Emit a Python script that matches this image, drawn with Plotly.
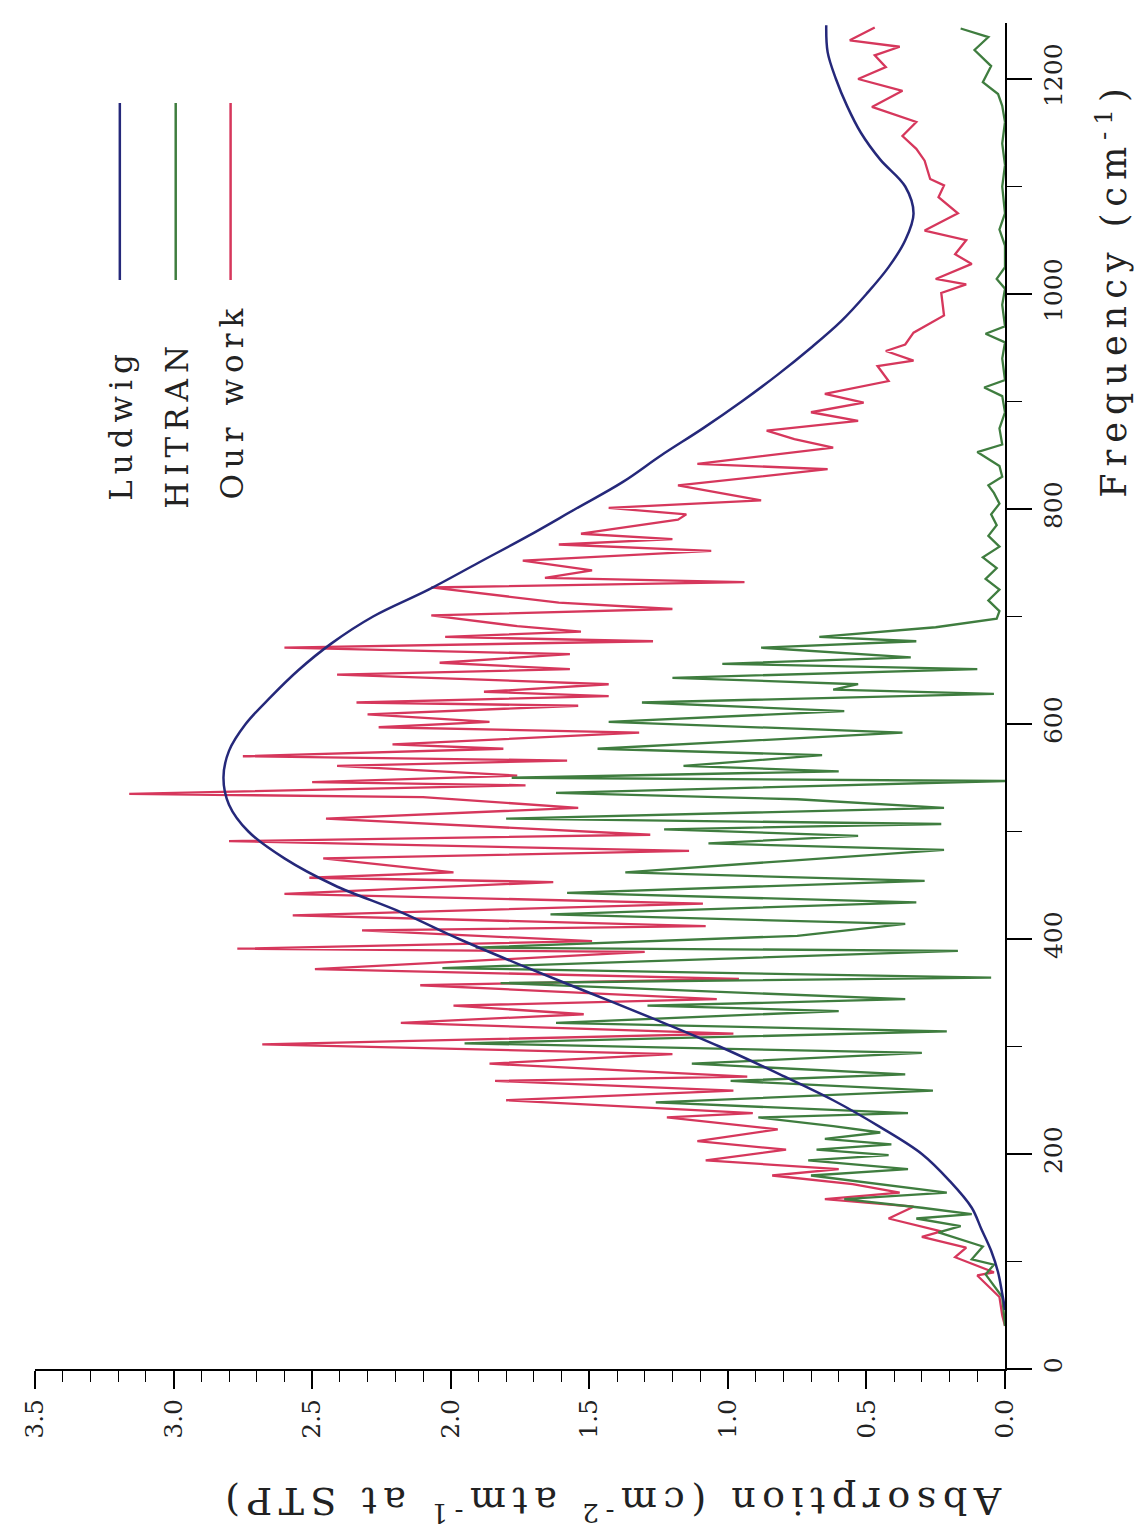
import plotly.graph_objects as go

# ---------------- data ----------------
ludwig_freq = [55, 60, 70, 90, 110, 130, 150, 175, 200, 225, 250, 275, 300, 325, 350, 375, 400, 425, 450,
               475, 500, 525, 550, 575, 600, 625, 650, 675, 700, 725, 750, 775, 800, 825, 850, 875, 900,
               925, 950, 975, 1000, 1025, 1050, 1075, 1100, 1125, 1150, 1175, 1200, 1225, 1250]
ludwig_abs = [0.0, 0.003, 0.01, 0.025, 0.05, 0.085, 0.12, 0.2, 0.3, 0.45, 0.62, 0.82, 1.03, 1.26, 1.5, 1.74,
              1.97, 2.18, 2.42, 2.6, 2.73, 2.8, 2.82, 2.8, 2.74, 2.65, 2.55, 2.43, 2.28, 2.08, 1.9, 1.72,
              1.55, 1.38, 1.24, 1.09, 0.95, 0.82, 0.7, 0.59, 0.5, 0.42, 0.36, 0.33, 0.36, 0.45, 0.52, 0.57,
              0.61, 0.64, 0.645]

hitran_freq = [40, 67, 88, 97, 102, 114, 127, 133, 140, 144, 150, 158, 164, 180, 186, 194, 199, 204, 209, 214,
               220, 226, 234, 238, 248, 259, 268, 274, 284, 294, 303, 314, 322, 333, 338, 344, 359, 364, 373,
               389, 392, 403, 414, 423, 434, 443, 454, 462, 473, 483, 489, 496, 502, 507, 512, 522, 530, 536,
               547, 550, 556, 561, 571, 577, 592, 602, 612, 620, 628, 632, 637, 643, 651, 656, 662, 671, 677,
               681, 690, 698, 705, 715, 725, 735, 745, 755, 765, 775, 785, 795, 805, 815, 822, 830, 840, 853,
               860, 875, 890, 905, 913, 920, 940, 955, 963, 970, 990, 1005, 1014, 1025, 1045, 1060, 1075,
               1100, 1120, 1140, 1160, 1175, 1186, 1197, 1212, 1227, 1239, 1247]
hitran_abs = [0.0, 0.01, 0.07, 0.04, 0.12, 0.08, 0.24, 0.16, 0.32, 0.12, 0.30, 0.58, 0.21, 0.70, 0.35, 0.71,
              0.42, 0.68, 0.41, 0.65, 0.45, 0.62, 0.89, 0.35, 1.26, 0.26, 0.99, 0.36, 1.13, 0.30, 1.95, 0.21,
              1.62, 0.60, 1.29, 0.36, 1.82, 0.05, 2.03, 0.17, 1.91, 0.75, 0.36, 1.64, 0.32, 1.58, 0.29, 1.37,
              0.77, 0.22, 1.07, 0.53, 1.23, 0.23, 1.80, 0.22, 0.75, 1.62, 0.0, 1.78, 0.60, 1.16, 0.66, 1.47,
              0.37, 1.43, 0.58, 1.31, 0.04, 0.62, 0.53, 1.20, 0.10, 1.02, 0.34, 0.88, 0.32, 0.67, 0.25, 0.03,
              0.02, 0.06, 0.02, 0.07, 0.03, 0.08, 0.02, 0.06, 0.03, 0.05, 0.02, 0.04, 0.06, 0.01, 0.02, 0.10,
              0.01, 0.02, 0.0, 0.01, 0.075, 0.0, 0.01, 0.0, 0.07, 0.0, 0.01, 0.0, 0.03, 0.0, 0.0, 0.02, 0.0,
              0.01, 0.0, 0.01, 0.0, 0.01, 0.025, 0.08, 0.05, 0.11, 0.06, 0.16]

ours_freq = [40, 50, 67, 87, 90, 104, 113, 123, 128, 140, 151, 158, 164, 172, 180, 186, 194, 204, 212, 223,
             234, 238, 250, 259, 268, 272, 284, 293, 302, 312, 322, 330, 338, 344, 357, 363, 372, 388, 391,
             398, 408, 412, 422, 433, 442, 453, 457, 462, 475, 482, 491, 497, 512, 522, 532, 535, 543, 546,
             552, 561, 566, 570, 577, 581, 592, 597, 602, 609, 617, 620, 626, 630, 637, 646, 651, 657, 665,
             671, 677, 681, 686, 691, 701, 707, 713, 727, 732, 736, 743, 752, 761, 767, 772, 777, 790, 795,
             801, 808, 822, 837, 842, 857, 865, 873, 882, 890, 899, 907, 919, 933, 938, 947, 953, 964, 980,
             1001, 1009, 1014, 1028, 1037, 1050, 1059, 1075, 1090, 1101, 1107, 1124, 1135, 1147, 1160, 1174,
             1189, 1200, 1211, 1222, 1230, 1236, 1248]
ours_abs = [0.0, 0.01, 0.02, 0.10, 0.04, 0.18, 0.14, 0.30, 0.23, 0.42, 0.33, 0.65, 0.38, 0.55, 0.84, 0.60,
            1.08, 0.79, 1.11, 0.82, 1.22, 0.91, 1.80, 0.98, 1.84, 0.93, 1.86, 1.20, 2.68, 0.98, 2.18, 1.52,
            1.99, 1.04, 2.11, 0.96, 2.49, 1.30, 2.77, 1.49, 2.32, 1.08, 2.57, 1.09, 2.60, 1.63, 2.51, 1.99,
            2.46, 1.14, 2.80, 1.28, 2.45, 1.54, 2.10, 3.16, 1.73, 2.50, 1.76, 2.41, 1.58, 2.75, 1.81, 2.21,
            1.32, 2.26, 1.86, 2.30, 1.54, 2.34, 1.43, 1.88, 1.43, 2.41, 1.57, 2.04, 1.57, 2.60, 1.27, 2.02,
            1.53, 1.76, 2.07, 1.20, 1.61, 2.07, 0.94, 1.66, 1.49, 1.74, 1.06, 1.61, 1.20, 1.53, 1.18, 1.15,
            1.43, 0.88, 1.18, 0.64, 1.11, 0.62, 0.76, 0.86, 0.53, 0.70, 0.51, 0.65, 0.42, 0.46, 0.33, 0.43,
            0.36, 0.33, 0.22, 0.23, 0.14, 0.25, 0.12, 0.18, 0.14, 0.29, 0.17, 0.24, 0.22, 0.27, 0.29, 0.32,
            0.37, 0.32, 0.48, 0.37, 0.53, 0.43, 0.47, 0.38, 0.56, 0.47]

abs_ticks = [0.0, 0.5, 1.0, 1.5, 2.0, 2.5, 3.0, 3.5]
abs_tick_text = ["0.0", "0.5", "1.0", "1.5", "2.0", "2.5", "3.0", "3.5"]
freq_ticks = [0, 200, 400, 600, 800, 1000, 1200]
freq_tick_text = ["0", "200", "400", "600", "800", "1000", "1200"]

series_names = ["Ludwig", "HITRAN", "Our work"]
series_colors = ["#25287a", "#3f7d3f", "#d6375c"]

FONT = "DejaVu Serif"

fig = go.Figure()
fig.add_trace(go.Scatter(x=ours_abs, y=ours_freq, mode="lines", name=series_names[2],
                         line=dict(color=series_colors[2], width=2.3)))
fig.add_trace(go.Scatter(x=hitran_abs, y=hitran_freq, mode="lines", name=series_names[1],
                         line=dict(color=series_colors[1], width=2.3)))
fig.add_trace(go.Scatter(x=ludwig_abs, y=ludwig_freq, mode="lines", name=series_names[0],
                         line=dict(color=series_colors[0], width=2.5), line_shape="spline"))

W, H = 1147, 1528
L, R, T, B = 25, 150, 15, 167
pw, ph = W - L - R, H - T - B

def px2x(px):
    return (px - L) / pw

def py2y(py):
    return (H - B - py) / ph

fig.update_layout(
    width=W, height=H,
    margin=dict(l=L, r=R, t=T, b=B),
    paper_bgcolor="white", plot_bgcolor="white",
    showlegend=False,
    font=dict(family=FONT, color="black"),
    xaxis=dict(
        range=[3.5, 0], autorange=False,
        showgrid=False, zeroline=False,
        showline=True, linecolor="black", linewidth=2,
        ticks="outside", ticklen=18, tickwidth=1.5, tickcolor="black",
        tickvals=abs_ticks, ticktext=abs_tick_text, tickangle=-90,
        tickfont=dict(family=FONT, size=25, color="#222"),
        minor=dict(dtick=0.1, ticks="outside", ticklen=11, tickwidth=1.2, tickcolor="black"),
    ),
    yaxis=dict(
        range=[0, ph / 1.075], autorange=False,
        side="right",
        showgrid=False, zeroline=False,
        showline=True, linecolor="black", linewidth=2,
        ticks="outside", ticklen=25, tickwidth=1.5, tickcolor="black",
        tickvals=freq_ticks, ticktext=freq_tick_text, tickangle=-90,
        tickfont=dict(family=FONT, size=25, color="#222"),
        minor=dict(dtick=100, ticks="outside", ticklen=15, tickwidth=1.2, tickcolor="black"),
    ),
)

# legend drawn in the rotated style of the original
leg_x = [110, 166, 221]
leg_text_cy = [416, 416, 393]
for i in range(3):
    fig.add_shape(type="line", xref="paper", yref="paper",
                  x0=px2x(leg_x[i]), x1=px2x(leg_x[i]), y0=py2y(95), y1=py2y(272),
                  line=dict(color=series_colors[i], width=2.5))
    fig.add_annotation(xref="paper", yref="paper", x=px2x(leg_x[i] + 1), y=py2y(leg_text_cy[i]),
                       text=series_names[i], textangle=-90, showarrow=False,
                       xanchor="center", yanchor="middle",
                       font=dict(family=FONT, size=31, color="#222"))

# axis titles (rotated as in the scanned page)
fig.add_annotation(xref="paper", yref="paper", x=px2x(1104), y=py2y(282),
                   text="Frequency (cm<sup>-1</sup>)", textangle=-90, showarrow=False,
                   xanchor="center", yanchor="middle",
                   font=dict(family=FONT, size=35, color="#222"))
fig.add_annotation(xref="paper", yref="paper", x=px2x(602), y=py2y(1496),
                   text="Absorption (cm<sup>-2</sup> atm<sup>-1</sup> at STP)", textangle=180,
                   showarrow=False, xanchor="center", yanchor="middle",
                   font=dict(family=FONT, size=38, color="#222"))

js = """
document.querySelectorAll('text.annotation-text').forEach(function(t){
  var s = t.textContent;
  var v = 6;
  if (s.indexOf('Absorption') === 0) { v = 6.5; }
  else if (s.indexOf('Frequency') === 0) { v = 7; }
  t.style.letterSpacing = v + 'px';
});
"""

fig.write_html("out.html", post_script=js)
